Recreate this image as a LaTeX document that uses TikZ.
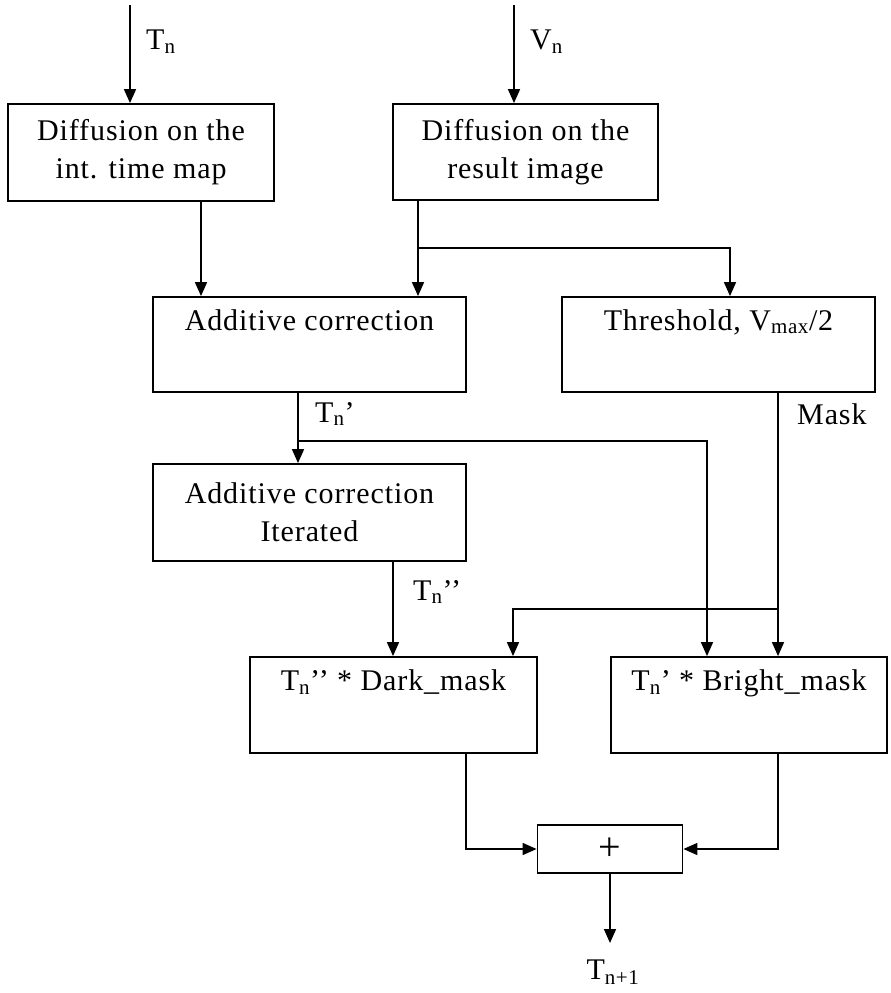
\documentclass[tikz,border=0pt]{standalone}
\usepackage{fontspec}
\setmainfont{Liberation Serif}[LetterSpace=3]
\usetikzlibrary{arrows.meta}
\begin{document}
\begin{tikzpicture}[x=1pt,y=-1pt,
  txt/.style={font=\fontsize{30}{38}\selectfont},
  blk/.style={draw, line width=1.8pt, inner sep=0pt, align=center, txt},
  arr/.style={line width=1.6pt, -{Triangle[length=14pt,width=12pt]}},
  ln/.style={line width=1.6pt},
  lbl/.style={txt, inner sep=0pt}]
\useasboundingbox[fill=white] (0,0) rectangle (891,993);
% boxes
\node[blk, minimum width=266pt, minimum height=97pt] (d1) at (141,152.5) {Diffusion on the\\int. time map};
\node[blk, minimum width=265pt, minimum height=96pt] (d2) at (525.5,152) {Diffusion on the\\result image};
\node[blk, minimum width=313pt, minimum height=95pt] (add) at (309.5,344.5) {Additive correction\\\strut};
\node[blk, minimum width=313pt, minimum height=95pt] (thr) at (718.5,344.5) {Threshold, V\textsubscript{max}/2\\\strut};
\node[blk, minimum width=313pt, minimum height=97pt] (it) at (309.5,512.5) {Additive correction\\Iterated};
\node[blk, minimum width=287pt, minimum height=96pt] (dark) at (393.5,705) {T\textsubscript{n}’’ * Dark\_mask\\\strut};
\node[blk, minimum width=276pt, minimum height=96pt] (bright) at (749,705) {T\textsubscript{n}’ * Bright\_mask\\\strut};
\node[blk, minimum width=145pt, minimum height=48pt, font=\fontsize{40}{40}\selectfont] (plus) at (610,849) {+};
% coordinates
\coordinate (in1) at (130,5);
\coordinate (in2) at (514,5);
\coordinate (a1) at (201,0);
\coordinate (j1) at (418,248);
\coordinate (j2) at (730,248);
\coordinate (j3) at (298,441);
\coordinate (j4) at (707,441);
\coordinate (j5) at (778,609);
\coordinate (j6) at (513,609);
\coordinate (a2) at (393,0);
\coordinate (j7) at (466,849);
\coordinate (j8) at (778,849);
\coordinate (out) at (610,943);
% connectors
\draw[arr] (in1) -- (in1 |- d1.north);
\draw[arr] (in2) -- (in2 |- d2.north);
\draw[arr] (d1.south -| a1) -- (add.north -| a1);
\draw[ln] (d2.south -| j1) -- (j1);
\draw[arr] (j1) -- (add.north -| j1);
\draw[arr] (j1) -- (j2) -- (thr.north -| j2);
\draw[ln] (add.south -| j3) -- (j3);
\draw[arr] (j3) -- (it.north -| j3);
\draw[arr] (j3) -- (j4) -- (bright.north -| j4);
\draw[arr] (thr.south -| j5) -- (bright.north -| j5);
\draw[arr] (j5) -- (j6) -- (dark.north -| j6);
\draw[arr] (it.south -| a2) -- (dark.north -| a2);
\draw[arr] (dark.south -| j7) -- (j7) -- (plus.west);
\draw[arr] (bright.south -| j8) -- (j8) -- (plus.east);
\draw[arr] (plus.south) -- (out);
% labels
\node[lbl, anchor=west] (lTn) at (146,42) {T\textsubscript{n}};
\node[lbl, anchor=west] (lVn) at (530,42) {V\textsubscript{n}};
\node[lbl, anchor=west] (lTp) at (315,414) {T\textsubscript{n}’};
\node[lbl, anchor=west] (lMask) at (797,414) {Mask};
\node[lbl, anchor=west] (lTpp) at (413,592) {T\textsubscript{n}’’};
\node[lbl] (lout) at (613,972) {T\textsubscript{n+1}};
\end{tikzpicture}
\end{document}
